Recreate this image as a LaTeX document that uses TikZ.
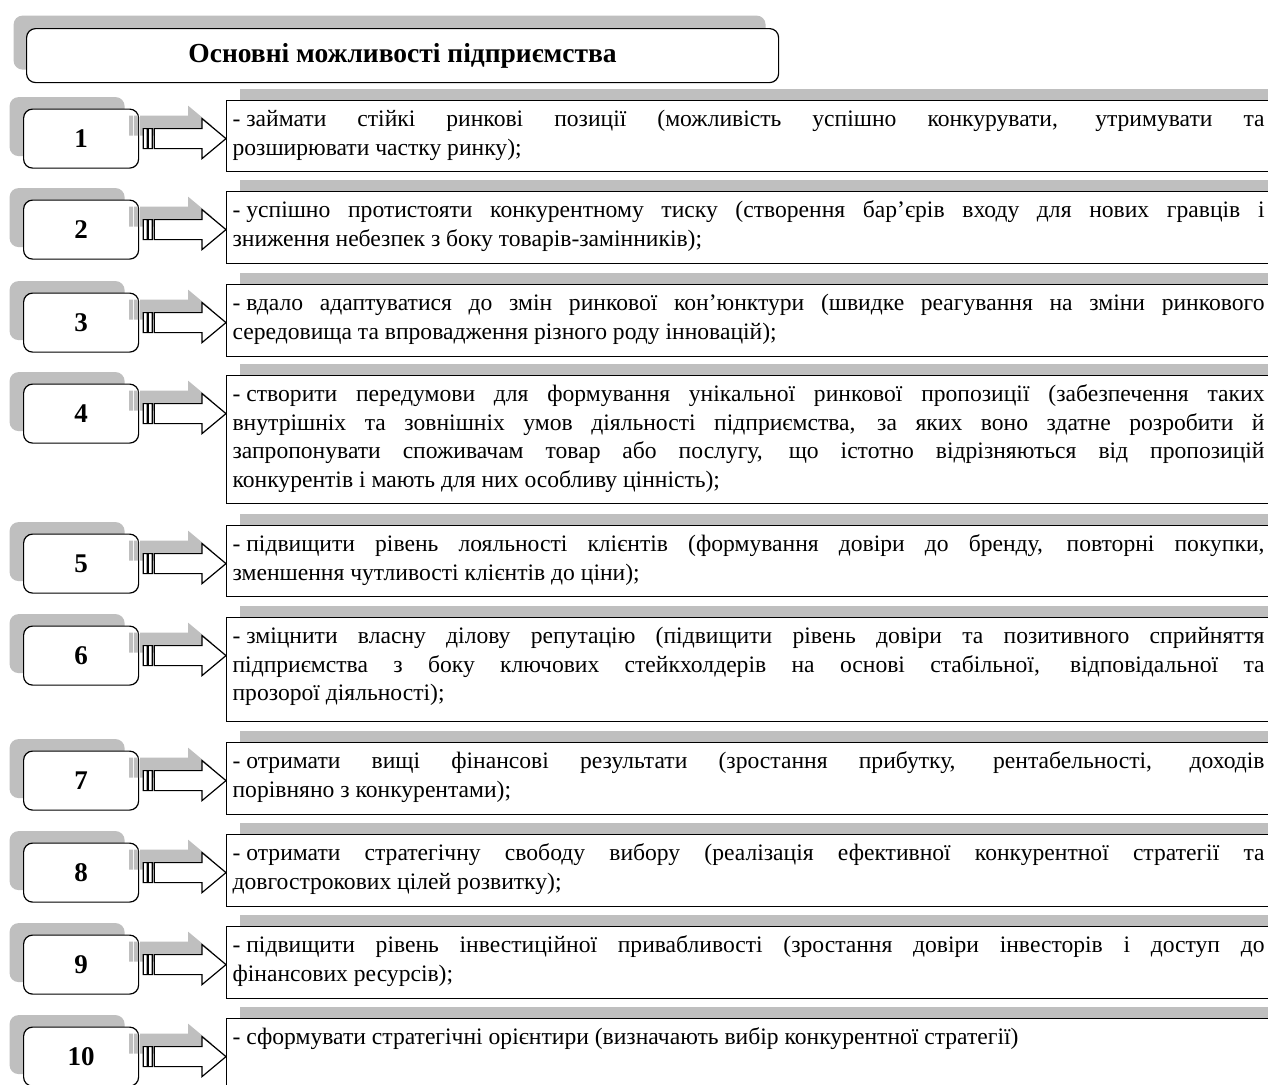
\documentclass[tikz,border=0pt]{standalone}
\usepackage{fontspec}
\setmainfont{Liberation Serif}
\usetikzlibrary{shadows}

% text of one item, top aligned in a box of fixed height
\newcommand{\itemtext}[2]{\parbox[c][#1][t]{1032pt}{\vspace*{6pt}\sloppy\strut -\hspace{0.25em}#2}}

% striped block arrow from tail point #1 to tip point #2
\newcommand{\stripearrow}[3]{%
  \path[#3] ([shift={(4,-10)}]#1) rectangle ([shift={(8,10)}]#1)
    ([shift={(9,-10)}]#1) rectangle ([shift={(13,10)}]#1)
    ([shift={(15,-10)}]#1) -- ([shift={(-24,-10)}]#2) -- ([shift={(-24,-20)}]#2)
    -- (#2) -- ([shift={(-24,20)}]#2) -- ([shift={(-24,10)}]#2)
    -- ([shift={(15,10)}]#1) -- cycle;}

\newcommand{\connect}[2]{%
  \coordinate (tail) at (#1.east);
  \coordinate (tip) at (#2.west |- #1.east);
  \coordinate (stail) at ([shift={(-14,-13)}]tail);
  \coordinate (stip) at ([shift={(-14,-13)}]tip);
  \stripearrow{stail}{stip}{shadowfill}
  \stripearrow{tail}{tip}{arrowfill}}

\begin{document}
\begin{tikzpicture}[
		x=1pt, y=-1pt,
		line width=1.2pt,
		shadowfill/.style={fill=black!25},
		arrowfill/.style={draw, fill=white},
		titlebox/.style={draw, fill=white, rounded corners=9pt, anchor=north west, minimum width=752pt, minimum height=54pt, font=\fontsize{27.5}{30}\selectfont\bfseries, general shadow={fill=black!25, shadow xshift=-13pt, shadow yshift=13pt}},
		numbox/.style={draw, fill=white, rounded corners=9pt, anchor=north west, minimum width=115pt, minimum height=59pt, font=\fontsize{27}{30}\selectfont\bfseries, general shadow={fill=black!25, shadow xshift=-14pt, shadow yshift=12pt}},
		textbox/.style={draw, fill=white, anchor=north west, inner xsep=6pt, inner ysep=0pt, font=\fontsize{23.6}{28.5}\selectfont, general shadow={fill=black!25, shadow xshift=13pt, shadow yshift=12pt}},
	]
		\useasboundingbox[fill=white] (0,0) rectangle (1268,1084);
		
		\node[titlebox] (title) at (26,28) {Основні можливості підприємства};
		
		\node[textbox] (t1) at (226,100) {\itemtext{71pt}{займати стійкі ринкові позиції (можливість успішно конкурувати, утримувати та\linebreak розширювати частку ринку);}};
		\node[numbox] (n1) at (23,108.5) {1};
		\connect{n1}{t1}
		
		\node[textbox] (t2) at (226,191) {\itemtext{72pt}{успішно протистояти конкурентному тиску (створення бар’єрів входу для нових гравців і\linebreak зниження небезпек з боку товарів-замінників);}};
		\node[numbox] (n2) at (23,199.5) {2};
		\connect{n2}{t2}
		
		\node[textbox] (t3) at (226,284) {\itemtext{72pt}{вдало адаптуватися до змін ринкової кон’юнктури (швидке реагування на зміни ринкового\linebreak середовища та впровадження різного роду інновацій);}};
		\node[numbox] (n3) at (23,292.5) {3};
		\connect{n3}{t3}
		
		\node[textbox] (t4) at (226,375) {\itemtext{128pt}{створити передумови для формування унікальної ринкової пропозиції (забезпечення таких\linebreak внутрішніх та зовнішніх умов діяльності підприємства, за яких воно здатне розробити й\linebreak запропонувати споживачам товар або послугу, що істотно відрізняються від пропозицій\linebreak конкурентів і мають для них особливу цінність);}};
		\node[numbox] (n4) at (23,383.5) {4};
		\connect{n4}{t4}
		
		\node[textbox] (t5) at (226,525) {\itemtext{71pt}{підвищити рівень лояльності клієнтів (формування довіри до бренду, повторні покупки,\linebreak зменшення чутливості клієнтів до ціни);}};
		\node[numbox] (n5) at (23,533.5) {5};
		\connect{n5}{t5}
		
		\node[textbox] (t6) at (226,617) {\itemtext{104pt}{зміцнити власну ділову репутацію (підвищити рівень довіри та позитивного сприйняття\linebreak підприємства з боку ключових стейкхолдерів на основі стабільної, відповідальної та\linebreak прозорої діяльності);}};
		\node[numbox] (n6) at (23,625.5) {6};
		\connect{n6}{t6}
		
		\node[textbox] (t7) at (226,742) {\itemtext{72pt}{отримати вищі фінансові результати (зростання прибутку, рентабельності, доходів\linebreak порівняно з конкурентами);}};
		\node[numbox] (n7) at (23,750.5) {7};
		\connect{n7}{t7}
		
		\node[textbox] (t8) at (226,834) {\itemtext{72pt}{отримати стратегічну свободу вибору (реалізація ефективної конкурентної стратегії та\linebreak довгострокових цілей розвитку);}};
		\node[numbox] (n8) at (23,842.5) {8};
		\connect{n8}{t8}
		
		\node[textbox] (t9) at (226,926) {\itemtext{72pt}{підвищити рівень інвестиційної привабливості (зростання довіри інвесторів і доступ до\linebreak фінансових ресурсів);}};
		\node[numbox] (n9) at (23,934.5) {9};
		\connect{n9}{t9}
		
		\node[textbox] (t10) at (226,1018) {\itemtext{80pt}{сформувати стратегічні орієнтири (визначають вибір конкурентної стратегії)}};
		\node[numbox] (n10) at (23,1026.5) {10};
		\connect{n10}{t10}
	\end{tikzpicture}
\end{document}
